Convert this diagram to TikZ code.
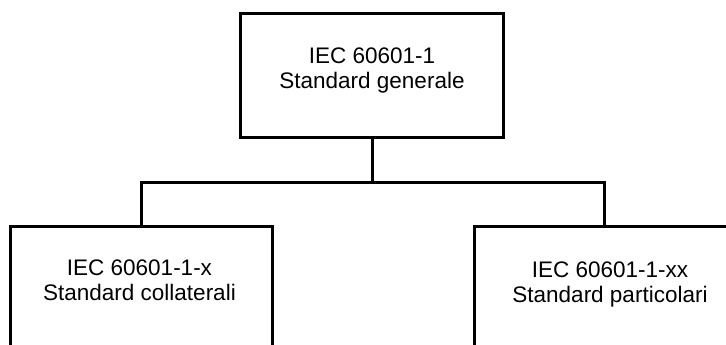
\documentclass[tikz,border=0pt]{standalone}
\usepackage{fontspec}
\setmainfont{Liberation Sans}
\begin{document}
\begin{tikzpicture}[x=1pt,y=-1pt,
  stdbox/.style={draw=black, line width=3pt, rectangle, inner sep=0pt},
  stdtxt/.style={align=center, inner sep=0pt, font=\fontsize{22.5pt}{25pt}\selectfont, anchor=base},
  conn/.style={draw=black, line width=3pt}]
\useasboundingbox (0,0) rectangle (726,345);
\clip (0,0) rectangle (726,345);
\node[stdbox, minimum width=263pt, minimum height=123pt] (top) at (372.2,75.5) {};
\node[stdbox, minimum width=262pt, minimum height=130pt] (left) at (141.5,291) {};
\node[stdbox, minimum width=260pt, minimum height=130pt] (right) at (604,291) {};
\node[stdtxt] (toptxt) at (372,88.3) {IEC 60601-1\\Standard generale};
\node[stdtxt] (lefttxt) at (139.5,300.5) {IEC 60601-1-x\\Standard collaterali};
\node[stdtxt] (righttxt) at (610,302.5) {IEC 60601-1-xx\\Standard particolari};
\coordinate (j) at (top.south |- 0,182);
\draw[conn] (top.south) -- (j);
\draw[conn] (left.north) |- (j) -| (right.north);
\end{tikzpicture}
\end{document}
